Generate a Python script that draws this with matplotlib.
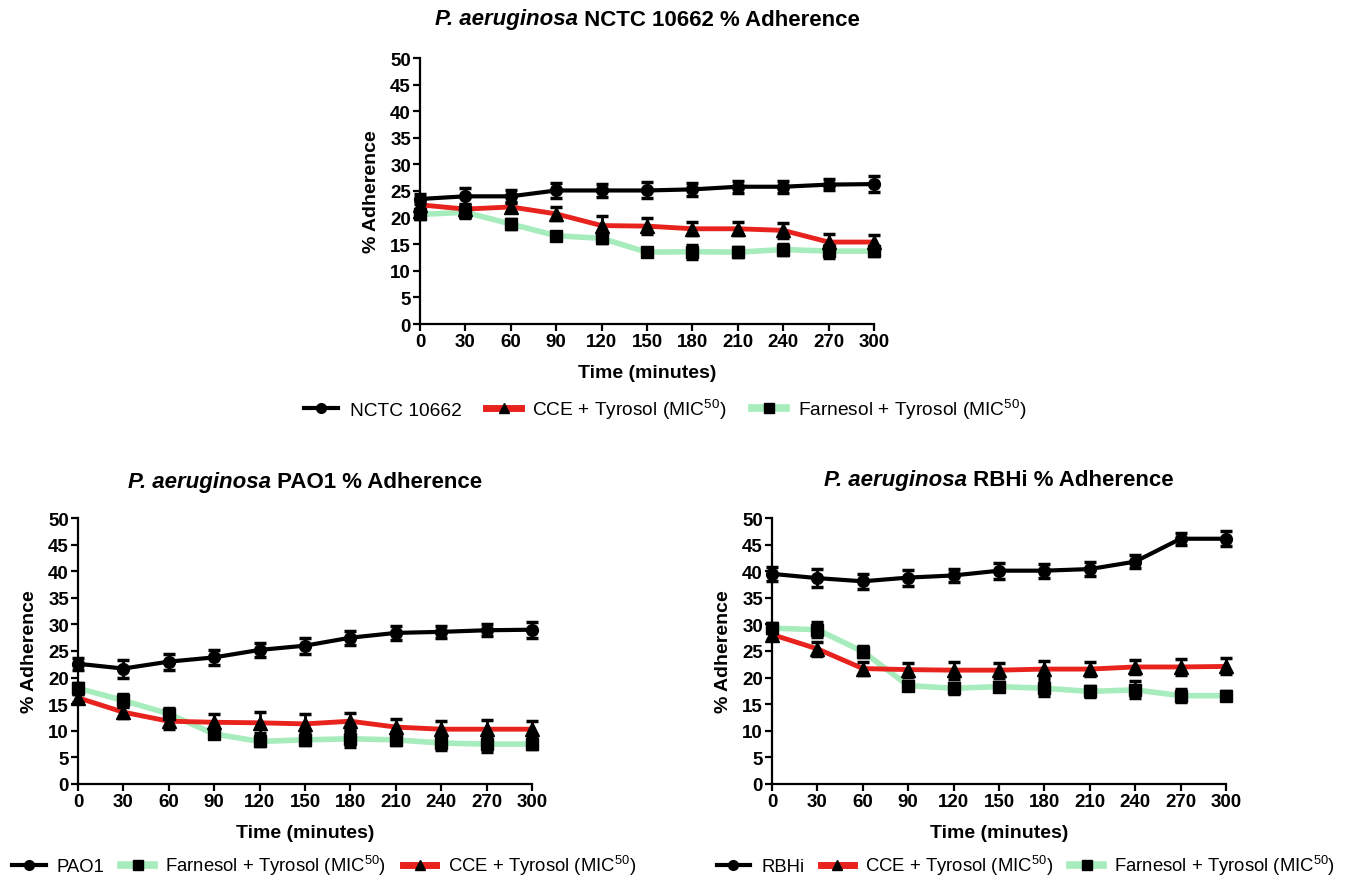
import numpy as np
import matplotlib
matplotlib.use("Agg")
import matplotlib.pyplot as plt
from matplotlib.lines import Line2D

plt.rcParams['font.family'] = ['Liberation Sans', 'DejaVu Sans']
plt.rcParams['mathtext.fontset'] = 'custom'
plt.rcParams['mathtext.rm'] = 'Liberation Sans'
plt.rcParams['mathtext.it'] = 'Liberation Sans:italic'
plt.rcParams['mathtext.bf'] = 'Liberation Sans:bold'

# Sampling times (minutes)
time_min = [0, 30, 60, 90, 120, 150, 180, 210, 240, 270, 300]
y_ticks = [0, 5, 10, 15, 20, 25, 30, 35, 40, 45, 50]

# NCTC 10662
nctc_ctrl = [23.5, 24.0, 24.0, 25.1, 25.1, 25.1, 25.3, 25.8, 25.8, 26.2, 26.3]
nctc_ctrl_err = [0.9, 1.6, 1.2, 1.4, 1.2, 1.5, 1.2, 1.1, 1.1, 1.1, 1.5]
nctc_cce = [22.4, 21.6, 22.0, 20.7, 18.5, 18.4, 17.9, 17.9, 17.6, 15.4, 15.4]
nctc_cce_err = [0.7, 1.0, 1.0, 1.2, 1.8, 1.5, 1.2, 1.2, 1.4, 1.6, 1.3]
nctc_far = [20.6, 21.0, 18.8, 16.6, 16.1, 13.5, 13.6, 13.5, 14.0, 13.7, 13.7]
nctc_far_err = [0.8, 1.0, 1.0, 0.7, 0.8, 0.8, 1.3, 0.9, 1.0, 1.2, 0.9]

# PAO1
pao_ctrl = [22.6, 21.7, 23.0, 23.8, 25.2, 26.0, 27.5, 28.4, 28.6, 28.9, 29.0]
pao_ctrl_err = [1.1, 1.7, 1.5, 1.4, 1.3, 1.5, 1.3, 1.3, 1.1, 1.1, 1.5]
pao_cce = [16.2, 13.5, 11.8, 11.6, 11.5, 11.3, 11.8, 10.7, 10.3, 10.3, 10.3]
pao_cce_err = [0.7, 1.1, 1.5, 1.6, 2.0, 1.8, 1.6, 1.6, 1.5, 1.8, 1.6]
pao_far = [18.0, 15.7, 13.2, 9.4, 8.0, 8.3, 8.5, 8.3, 7.7, 7.5, 7.5]
pao_far_err = [1.0, 1.3, 1.0, 0.8, 0.9, 0.9, 1.5, 1.0, 1.3, 1.4, 1.0]

# RBHi
rbh_ctrl = [39.5, 38.7, 38.1, 38.8, 39.2, 40.1, 40.1, 40.4, 41.8, 46.1, 46.1]
rbh_ctrl_err = [1.3, 1.7, 1.4, 1.5, 1.3, 1.5, 1.3, 1.3, 1.2, 1.1, 1.4]
rbh_cce = [28.1, 25.4, 21.7, 21.5, 21.4, 21.4, 21.6, 21.6, 22.0, 22.0, 22.1]
rbh_cce_err = [1.0, 1.3, 1.2, 1.3, 1.6, 1.4, 1.5, 1.3, 1.3, 1.5, 1.5]
rbh_far = [29.3, 29.0, 24.9, 18.5, 18.0, 18.3, 18.0, 17.4, 17.7, 16.6, 16.6]
rbh_far_err = [1.0, 1.4, 1.0, 0.8, 1.0, 0.9, 1.5, 1.1, 1.6, 1.2, 0.9]

MIC = r'MIC$^{50}$'
LBL_CCE = 'CCE + Tyrosol (' + MIC + ')'
LBL_FAR = 'Farnesol + Tyrosol (' + MIC + ')'

C_CTRL = '#000000'
C_CCE = '#e8231e'
C_FAR = '#a6ecbc'

STYLE = {
    'ctrl': dict(color=C_CTRL, lw=3.0, marker='o', ms=8.5),
    'cce': dict(color=C_CCE, lw=3.5, marker='^', ms=9.5),
    'far': dict(color=C_FAR, lw=4.0, marker='s', ms=8.5),
}

W, H = 1350, 879
fig = plt.figure(figsize=(W / 100, H / 100), dpi=100)

TICK_FS = 13.5
LABEL_FS = 14
TITLE_FS = 16


def draw_series(ax, y, err, kind, z):
    st = STYLE[kind]
    ax.plot(time_min, y, color=st['color'], lw=st['lw'], zorder=z,
            solid_capstyle='butt')
    ax.errorbar(time_min, y, yerr=err, fmt='none', ecolor='black',
                elinewidth=2.0, capsize=4.5, capthick=2.5, zorder=z + 5)
    ax.plot(time_min, y, ls='none', marker=st['marker'], ms=st['ms'],
            mfc='black', mec='black', zorder=z + 6)


def style_axes(ax):
    ax.set_xlim(0, 300)
    ax.set_ylim(0, 50)
    ax.set_xticks(time_min)
    ax.set_yticks(y_ticks)
    for s in ('top', 'right'):
        ax.spines[s].set_visible(False)
    for s in ('left', 'bottom'):
        ax.spines[s].set_linewidth(1.6)
    ax.tick_params(axis='both', direction='out', length=5, width=1.6,
                   labelsize=TICK_FS, pad=1.5)
    for lab in ax.get_xticklabels() + ax.get_yticklabels():
        lab.set_fontweight('bold')
    ax.set_xlabel('Time (minutes)', fontsize=LABEL_FS, fontweight='bold', labelpad=10)
    ax.set_ylabel('% Adherence', fontsize=LABEL_FS, fontweight='bold', labelpad=7)
    for sp in ax.spines.values():
        sp.set_zorder(50)


def make_handle(kind):
    st = STYLE[kind]
    return Line2D([], [], color=st['color'],
                  lw=st['lw'] + (1.5 if kind != 'ctrl' else 0),
                  marker=st['marker'], ms=7, mfc='black', mec='black')


def two_part_title(xc_px, y_px, italic_part, rest, size=TITLE_FS):
    r = fig.canvas.get_renderer()
    yf = 1 - y_px / H
    t1 = fig.text(0, yf, italic_part, fontsize=size, fontweight='bold',
                  fontstyle='italic', va='center', ha='left')
    t2 = fig.text(0, yf, rest, fontsize=size, fontweight='bold',
                  va='center', ha='left')
    w1 = t1.get_window_extent(r).width
    w2 = t2.get_window_extent(r).width
    x0 = xc_px - (w1 + w2) / 2
    t1.set_x(x0 / W)
    t2.set_x((x0 + w1) / W)


AX_W, AX_H = 454, 266
panels = [
    dict(left=420, bottom_y=325, title=' NCTC 10662 % Adherence', title_y=20,
         series=[(nctc_ctrl, nctc_ctrl_err, 'ctrl', 'NCTC 10662'),
                 (nctc_cce, nctc_cce_err, 'cce', LBL_CCE),
                 (nctc_far, nctc_far_err, 'far', LBL_FAR)],
         legend_order=['ctrl', 'cce', 'far'], legend_xc=665, legend_y=410,
         legend_fs=13.8, legend_cs=1.3),
    dict(left=78, bottom_y=785, title=' PAO1 % Adherence', title_y=483,
         series=[(pao_ctrl, pao_ctrl_err, 'ctrl', 'PAO1'),
                 (pao_cce, pao_cce_err, 'cce', LBL_CCE),
                 (pao_far, pao_far_err, 'far', LBL_FAR)],
         legend_order=['ctrl', 'far', 'cce'], legend_xc=324, legend_y=866,
         legend_fs=13.3, legend_cs=0.9),
    dict(left=772, bottom_y=785, title=' RBHi % Adherence', title_y=481,
         series=[(rbh_ctrl, rbh_ctrl_err, 'ctrl', 'RBHi'),
                 (rbh_cce, rbh_cce_err, 'cce', LBL_CCE),
                 (rbh_far, rbh_far_err, 'far', LBL_FAR)],
         legend_order=['ctrl', 'cce', 'far'], legend_xc=1026, legend_y=866,
         legend_fs=13.3, legend_cs=0.9),
]

for p in panels:
    ax = fig.add_axes([p['left'] / W, 1 - p['bottom_y'] / H, AX_W / W, AX_H / H])
    zmap = {'far': 2, 'cce': 3, 'ctrl': 4}
    labels = {}
    for y, err, kind, lab in p['series']:
        draw_series(ax, y, err, kind, zmap[kind])
        labels[kind] = lab
    for art in ax.lines + ax.collections:
        art.set_clip_on(False)
    style_axes(ax)
    two_part_title(p['left'] + AX_W / 2, p['title_y'], 'P. aeruginosa', p['title'])
    handles = [make_handle(k) for k in p['legend_order']]
    texts = [labels[k] for k in p['legend_order']]
    fig.legend(handles, texts, loc='center',
               bbox_to_anchor=(p['legend_xc'] / W, 1 - p['legend_y'] / H),
               ncol=3, frameon=False, fontsize=p['legend_fs'], handlelength=1.8,
               handletextpad=0.6, columnspacing=p['legend_cs'], borderaxespad=0,
               borderpad=0)

fig.savefig('out.png', dpi=100, facecolor='white')
